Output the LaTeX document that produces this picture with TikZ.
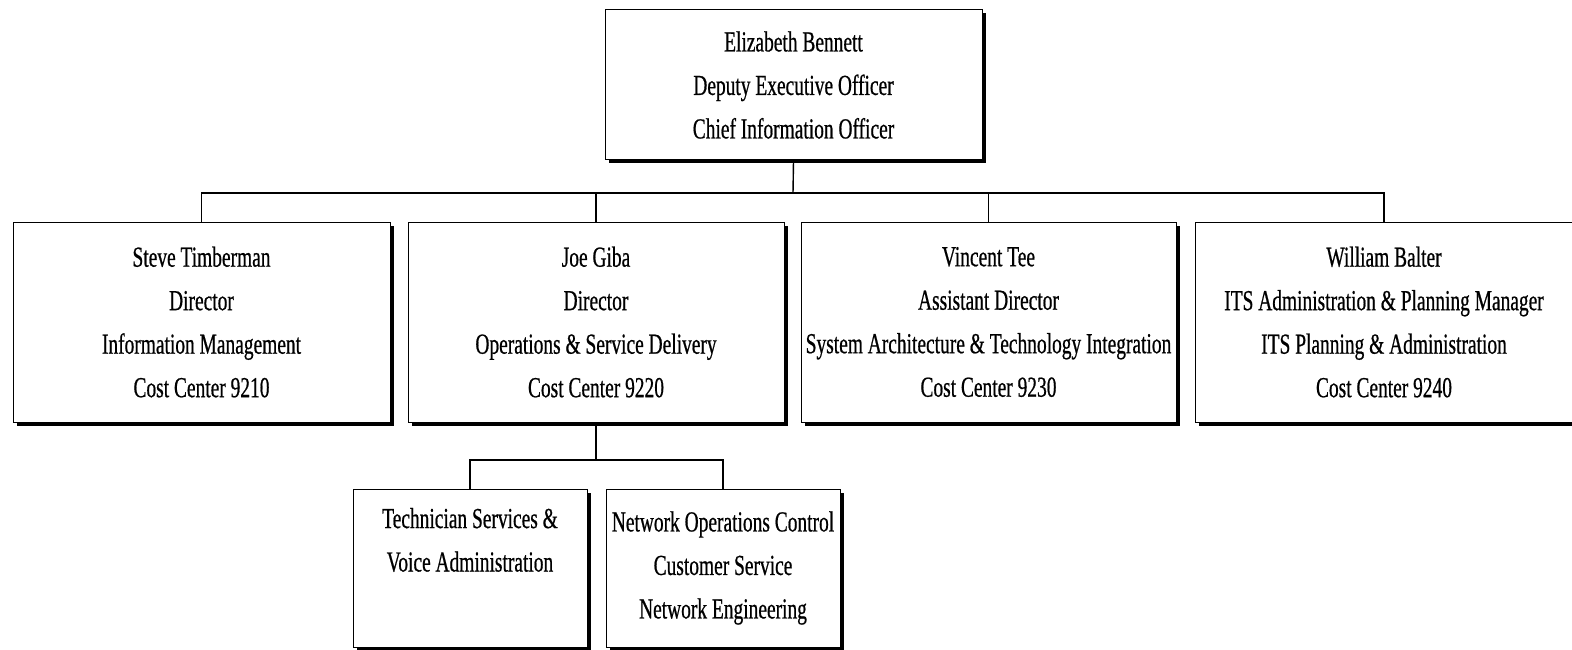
\documentclass[tikz,border=0pt]{standalone}
\usepackage{fontspec}
\setmainfont{Liberation Serif}[FakeStretch=0.67,FakeBold=0.6]
\usetikzlibrary{shadows}
\begin{document}
\begin{tikzpicture}[x=1pt,y=-1pt,
  orgbox/.style={draw, line width=1pt, fill=white, rectangle, align=center,
    inner sep=0pt, font=\fontsize{29}{43.5}\selectfont,
    drop shadow={shadow xshift=3.5pt, shadow yshift=-3.5pt, fill=black, opacity=1}},
  link/.style={line width=1.4pt}]
\useasboundingbox (0,0) rectangle (1572,650);
\coordinate (bus) at (793,193);
\coordinate (bus2) at (596,460);
% boxes
\node[orgbox, minimum width=377pt, minimum height=150pt] (top) at (793.5,85)
  {Elizabeth Bennett\\Deputy Executive Officer\\Chief Information Officer};
\node[orgbox, minimum width=377pt, minimum height=200pt] (b1) at (201.5,322)
  {Steve Timberman\\Director\\Information Management\\Cost Center 9210};
\node[orgbox, minimum width=376pt, minimum height=200pt] (b2) at (596,322)
  {Joe Giba\\Director\\Operations \& Service Delivery\\Cost Center 9220};
\node[orgbox, minimum width=375pt, minimum height=200pt] (b3) at (988.5,322)
  {Vincent Tee\\Assistant Director\\System Architecture \& Technology Integration\\Cost Center 9230};
\node[orgbox, minimum width=378pt, minimum height=200pt] (b4) at (1384,322)
  {William Balter\\ITS Administration \& Planning Manager\\ITS Planning \& Administration\\Cost Center 9240};
\node[orgbox, minimum width=234pt, minimum height=158pt] (c1) at (470,568)
  {Technician Services \&\\Voice Administration\\\strut};
\node[orgbox, minimum width=234pt, minimum height=158pt] (c2) at (723,568)
  {Network Operations Control\\Customer Service\\Network Engineering};
% connectors
\draw[link] (top.south) -- (bus);
\draw[link] (b1.north) |- (bus);
\draw[link] (b2.north) |- (bus);
\draw[link] (b3.north) |- (bus);
\draw[link] (b4.north) |- (bus);
\draw[link] (b2.south) -- (bus2);
\draw[link] (c1.north) |- (bus2);
\draw[link] (c2.north) |- (bus2);
\end{tikzpicture}
\end{document}
